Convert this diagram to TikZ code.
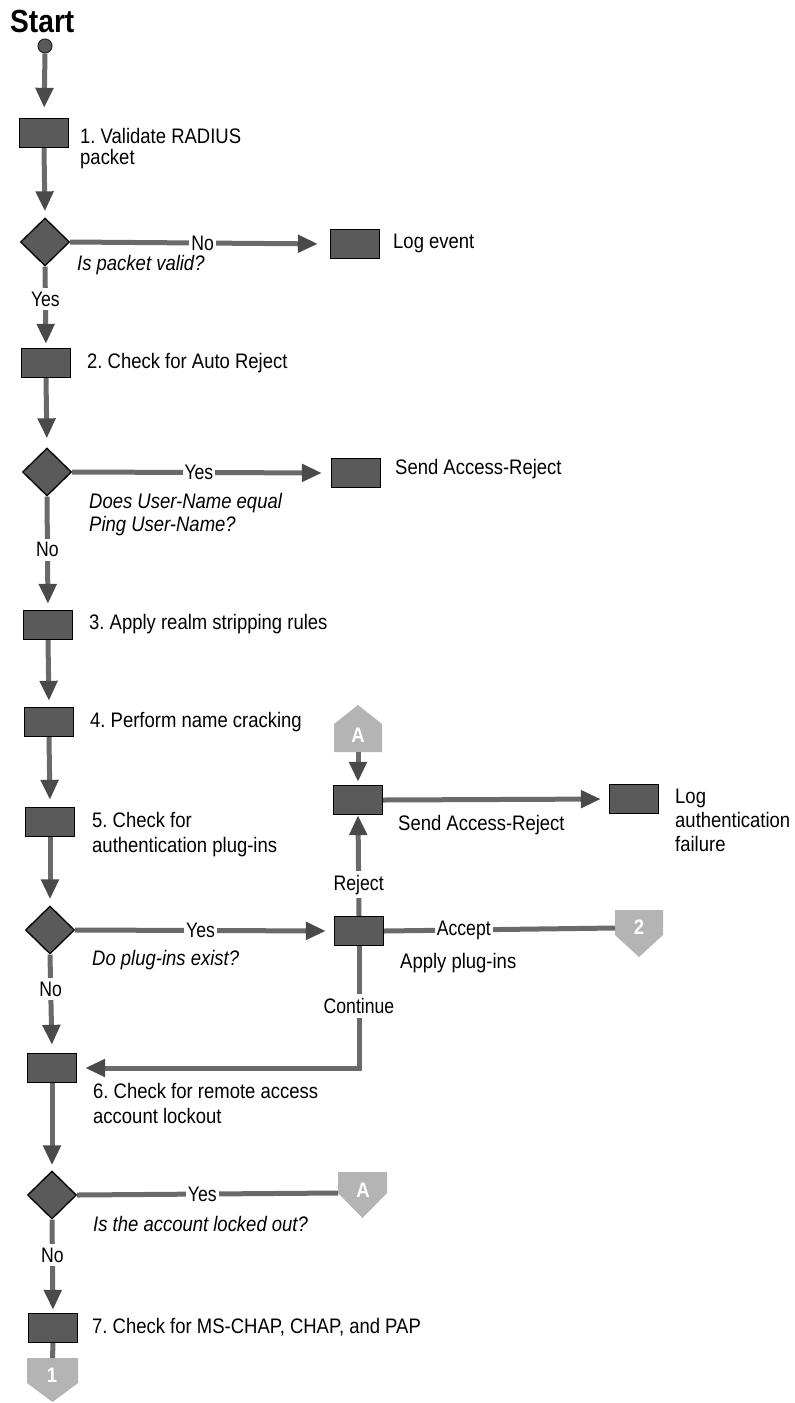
\documentclass[tikz,border=0pt]{standalone}
\usepackage{fontspec}
\newfontfamily\hv[FakeStretch=0.88]{Liberation Sans}
\newfontfamily\hvl[FakeStretch=0.84]{Liberation Sans}
\usetikzlibrary{arrows.meta,shapes.geometric}
\definecolor{boxfill}{HTML}{5A5A5A}
\definecolor{linec}{HTML}{6A6A6A}
\definecolor{tipc}{HTML}{4A4A4A}
\definecolor{connc}{HTML}{B4B4B4}
\newcommand{\twoline}[2]{\vtop{\hbox{#1}\hbox{#2}}}
\newcommand{\threeline}[3]{\vtop{\hbox{#1}\hbox{#2}\hbox{#3}}}
\begin{document}
\frenchspacing
\begin{tikzpicture}[x=1pt,y=-1pt,
  stbox/.style={rectangle, draw=black, line width=1.3pt, fill=boxfill, minimum width=49pt, minimum height=29pt, inner sep=0pt},
  dec/.style={diamond, draw=black, line width=1.3pt, fill=boxfill, minimum width=49pt, minimum height=48pt, inner sep=0pt},
  conn/.style={fill=connc},
  clet/.style={text=white, inner sep=0pt, font=\hv\bfseries\fontsize{21}{21}\selectfont},
  lin/.style={draw=linec, line width=5pt},
  arr/.style={lin, -{Triangle[length=20pt,width=17pt,color=tipc]}, shorten >=7pt},
  txt/.style={anchor=base west, inner sep=0pt, font=\hv\fontsize{21}{24}\selectfont},
  itx/.style={txt, font=\hv\itshape\fontsize{21}{23}\selectfont},
  lab/.style={fill=white, inner xsep=2pt, inner ysep=3pt, font=\hvl\fontsize{21}{24}\selectfont},
  vlab/.style={lab, inner ysep=4pt}
]
\fill[white] (0,0) rectangle (795,1403);
\useasboundingbox (0,0) rectangle (795,1403);

% title
\node[anchor=base west, inner sep=0pt, font=\hv\bfseries\fontsize{32}{32}\selectfont] (title) at (10,32) {Start};
\node[circle, minimum size=14pt, inner sep=0pt, fill=boxfill, draw=black!85, line width=1pt] (start) at (45,46) {};

% main column
\node[stbox] (b1) at (44,133) {};
\node[dec] (d1) at (45,242) {};
\node[stbox] (log) at (355,244) {};
\node[stbox] (b2) at (46,363) {};
\node[dec] (d2) at (47,472) {};
\node[stbox] (sar1) at (356,473) {};
\node[stbox] (b3) at (48,625) {};
\node[stbox] (b4) at (49,722) {};
\node[stbox] (b5) at (50,822) {};
\node[stbox] (sar2) at (358,800) {};
\node[stbox] (logauth) at (634,799) {};
\node[dec] (d3) at (50,930) {};
\node[stbox] (apply) at (359,931) {};
\node[stbox] (b6) at (52,1068) {};
\node[dec] (d4) at (52,1195) {};
\node[stbox] (b7) at (53,1328) {};

% off-page connectors
\fill[conn] (334,752) -- (334,724) -- (358,705) -- (382,724) -- (382,752) -- cycle;
\node[clet] (cA1) at (358,735) {A};
\coordinate (cA1b) at (358,752);
\fill[conn] (615,910) -- (663,910) -- (663,935) -- (639,957) -- (615,935) -- cycle;
\node[clet] (c2) at (639,927) {2};
\coordinate (c2w) at (615,928);
\fill[conn] (338,1172) -- (387,1172) -- (387,1193) -- (362.5,1218) -- (338,1193) -- cycle;
\node[clet] (cA2) at (363,1190) {A};
\coordinate (cA2w) at (338,1193);
\fill[conn] (27,1358) -- (78,1358) -- (78,1383) -- (52.5,1402) -- (27,1383) -- cycle;
\node[clet] (c1) at (52,1375) {1};
\coordinate (c1n) at (52.5,1358);

% texts
\node[txt, font=\hv\fontsize{21}{21}\selectfont] (t1) at (80,143) {\twoline{1. Validate RADIUS}{packet}};
\node[txt] (tlog) at (393,248) {Log event};
\node[itx] (q1) at (77,270) {Is packet valid?};
\node[txt] (t2) at (87,368) {2. Check for Auto Reject};
\node[txt] (tsar1) at (395,474) {Send Access-Reject};
\node[itx] (q2) at (89,508) {\twoline{Does User-Name equal}{Ping User-Name?}};
\node[txt] (t3) at (89,629) {3. Apply realm stripping rules};
\node[txt] (t4) at (90,727) {4. Perform name cracking};
\node[txt, font=\hv\fontsize{21}{25}\selectfont] (t5) at (92,827) {\twoline{5. Check for}{authentication plug-ins}};
\node[txt] (tsar2) at (398,830) {Send Access-Reject};
\node[txt] (tlogauth) at (675,803) {\threeline{Log}{authentication}{failure}};
\node[itx] (q3) at (92,965) {Do plug-ins exist?};
\node[txt] (tapply) at (400,968) {Apply plug-ins};
\node[txt, font=\hv\fontsize{21}{25}\selectfont] (t6) at (93,1098) {\twoline{6. Check for remote access}{account lockout}};
\node[itx] (q4) at (93,1231) {Is the account locked out?};
\node[txt] (t7) at (92,1333) {7. Check for MS-CHAP, CHAP, and PAP};

% connectors
\draw[arr, shorten >=10pt] (start.south) -- (b1.north);
\draw[arr, shorten >=6pt] (b1.south) -- (d1.north);
\draw[arr, shorten >=12pt] (d1.east) -- node[lab, pos=0.51] {No} (log.west);
\draw[arr, shorten >=4pt] (d1.south) -- node[vlab, pos=0.40] {Yes} (b2.north);
\draw[arr, shorten >=9pt] (b2.south) -- (d2.north);
\draw[arr, shorten >=9pt] (d2.east) -- node[lab, pos=0.49] {Yes} (sar1.west);
\draw[arr, shorten >=6pt] (d2.south) -- node[vlab, pos=0.47] {No} (b3.north);
\draw[arr, shorten >=6pt] (b3.south) -- (b4.north);
\draw[arr, shorten >=7pt] (b4.south) -- (b5.north);
\draw[arr, shorten >=6pt] (b5.south) -- (d3.north);
\draw[arr, shorten >=8pt] (d3.east) -- node[lab, pos=0.485] {Yes} (apply.west);
\draw[arr, shorten >=8pt] (d3.south) -- node[vlab, pos=0.35] {No} (b6.north);
\draw[arr, shorten >=0pt] (apply.north) -- node[vlab, pos=0.31] {Reject} (sar2.south);
\draw[arr, shorten >=3pt] (cA1b) -- (sar2.north);
\draw[arr, shorten >=8pt] (sar2.east) -- (logauth.west);
\draw[lin] (apply.east) -- node[lab, pos=0.345] {Accept} (c2w);
\draw[arr, shorten >=8pt] (apply.south) -- node[vlab, pos=0.49] {Continue} (apply.south |- b6.east) -- (b6.east);
\draw[arr, shorten >=5pt] (b6.south) -- (d4.north);
\draw[lin] (d4.east) -- node[lab, pos=0.48] {Yes} (cA2w);
\draw[arr, shorten >=3pt] (d4.south) -- node[vlab, pos=0.38] {No} (b7.north);
\draw[lin] (b7.south) -- (c1n);
\end{tikzpicture}
\end{document}
